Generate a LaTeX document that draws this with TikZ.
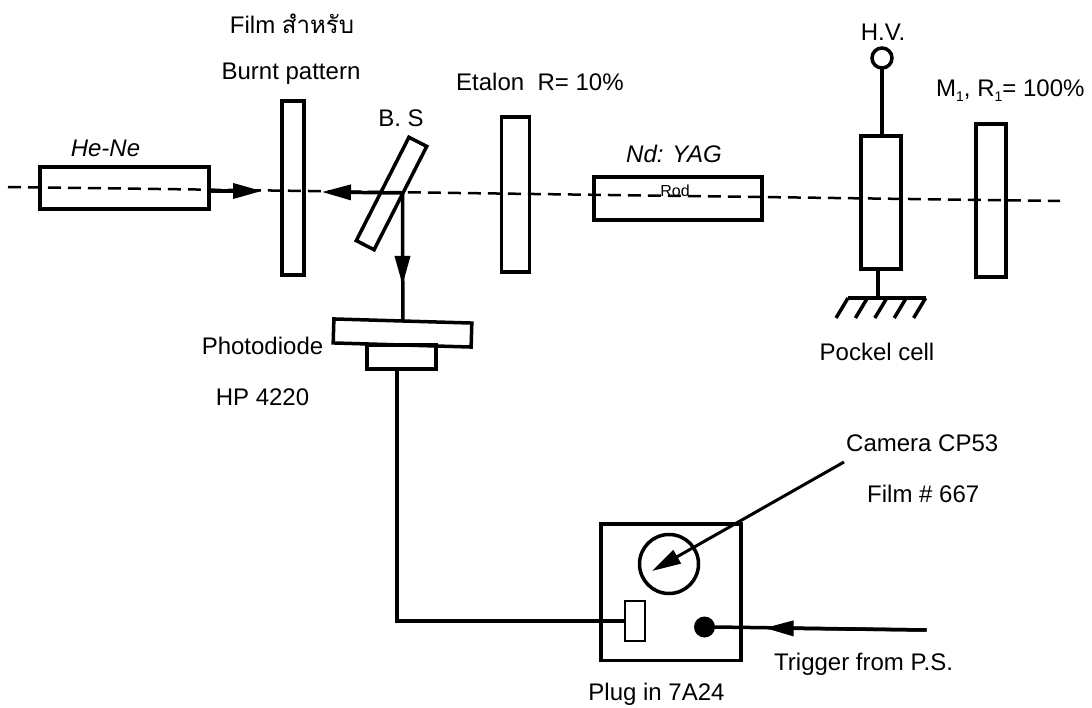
\documentclass[tikz,border=0pt]{standalone}
\usepackage{fontspec}
\setmainfont{Liberation Sans}
\newfontfamily\thaifont[Script=Thai]{Loma}
\usetikzlibrary{arrows.meta,calc}
\newcommand{\subone}{\raisebox{-5pt}{\fontsize{14}{16}\selectfont 1}}
\tikzset{
  part/.style={draw=black,line width=3.5pt,fill=none,inner sep=0pt,outer sep=0pt,minimum width=#1},
  lbl/.style={inner sep=0pt,font=\fontsize{24}{28}\selectfont,text=black},
  beamline/.style={line width=2.5pt,dash pattern=on 13pt off 7pt},
  wire/.style={line width=3.5pt},
  arrowed/.style={line width=3.5pt,-{Triangle[length=29pt,width=15pt]}}
}
\begin{document}
\begin{tikzpicture}[x=1pt,y=1pt]
\useasboundingbox[fill=white] (0,0) rectangle (1092,-708);
% beam
\coordinate (beamL) at (8,-187);
\coordinate (beamR) at (1060,-201);
\draw[beamline] (beamL) -- (beamR);
% optical parts
\node[part=169pt,minimum height=42pt] (hene) at (124.5,-188) {};
\node[part=22pt,minimum height=174pt] (film) at (293,-188) {};
\node[part=116pt,minimum height=20pt,rotate=63] (bs) at (391.5,-193.5) {};
\node[part=28pt,minimum height=155pt] (etalon) at (515.5,-194.5) {};
\node[part=168pt,minimum height=43pt] (rod) at (678,-198.5) {};
\node[part=40pt,minimum height=133pt] (pockel) at (881,-202.5) {};
\node[part=30pt,minimum height=153pt] (mirror) at (991,-200.5) {};
\node[part=138pt,minimum height=24pt,rotate=-1.7] (plate) at (402.5,-333) {};
\node[part=69pt,minimum height=24pt] (diode) at (401.5,-357) {};
\node[draw=black,line width=3.5pt,circle,inner sep=0pt,outer sep=0pt,minimum size=20pt] (hv) at (882,-58) {};
% oscilloscope
\node[part=140pt,minimum height=136.5pt] (scope) at (671,-592) {};
\node[draw=black,line width=3.5pt,circle,inner sep=0pt,outer sep=0pt,minimum size=59pt] (screen) at (669,-564) {};
\node[draw=black,line width=2pt,inner sep=0pt,outer sep=0pt,minimum width=20pt,minimum height=40pt] (plug) at (635,-621) {};
\node[fill=black,circle,inner sep=0pt,outer sep=0pt,minimum size=21pt] (dot) at (704.5,-627) {};
% free ends
\coordinate (heneTip) at (262,-191);
\coordinate (bsHit) at (402.5,-193);
\coordinate (bsTip) at (322,-192);
\coordinate (downTip) at (402.5,-285);
\coordinate (camFrom) at (844,-462);
\coordinate (camTip) at (652,-571);
\coordinate (trigFrom) at (926.5,-630);
\coordinate (trigTip) at (764.6,-628);
\coordinate (gndL) at (848,-298);
\coordinate (gndR) at (926,-298);
\coordinate (gndStem) at (878,-298);
% arrows and wires
\draw[arrowed] (hene.east |- heneTip) -- (heneTip);
\draw[arrowed] (bsHit) -- (bsTip);
\draw[wire] (bsHit) -- (plate.north);
\draw[arrowed] (bsHit) -- (downTip);
\draw[wire] ([xshift=-4.5pt]diode.south) |- (plug.west);
\draw[line width=3pt,-{Triangle[length=29pt,width=15pt]}] (camFrom) -- (camTip);
\draw[line width=3.5pt] (trigFrom) -- (dot.east);
\draw[arrowed] (trigFrom) -- (trigTip);
\draw[wire] (hv.south) -- (pockel.north -| hv.south);
\draw[wire] (pockel.south -| gndStem) -- (gndStem);
% ground
\draw[wire] (gndL) -- (gndR);
\foreach \i in {0,1,2,3,4}{
  \draw[wire] ($(gndL)+(\i*19.4,0)$) -- ++(-12,-20);
}
% labels
\node[lbl,anchor=center] (lfilm) at (292,-24) {Film {\thaifont สำหรับ}};
\node[lbl] (lburnt) at (291,-74) {Burnt pattern};
\node[lbl] (lbs) at (401,-118) {B. S};
\node[lbl,anchor=west] (letalon) at (456,-82) {Etalon\ \ R= 10\%};
\node[lbl,font=\fontsize{24}{28}\selectfont\itshape] (lhene) at (105.5,-148) {He-Ne};
\node[lbl,font=\fontsize{24}{28}\selectfont\itshape] (lnd) at (674,-154) {Nd: YAG};
\node[lbl,font=\fontsize{16}{18}\selectfont] (lrod) at (675,-191) {Rod};
\node[lbl] (lhv) at (883,-32) {H.V.};
\node[lbl,anchor=base west] (lm) at (936,-97) {M\subone, R\subone= 100\%};
\node[lbl] (lpd) at (262.5,-346) {Photodiode};
\node[lbl] (lhp) at (262.5,-397) {HP 4220};
\node[lbl] (lpock) at (877,-352) {Pockel cell};
\node[lbl,anchor=west] (lcam) at (846,-443) {Camera CP53};
\node[lbl,anchor=west] (lf667) at (867,-494) {Film \# 667};
\node[lbl,anchor=west] (ltrig) at (774,-664) {Trigger from P.S.};
\node[lbl] (lplug) at (656.5,-694) {Plug in 7A24};
\end{tikzpicture}
\end{document}
